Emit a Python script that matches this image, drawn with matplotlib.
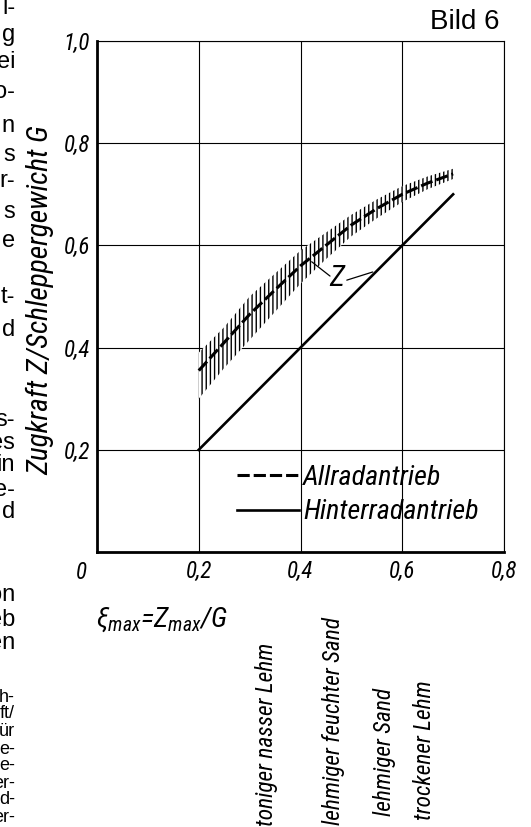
# coding: utf-8

# Imports
import matplotlib
matplotlib.use("Agg")
import matplotlib.pyplot as plt
import matplotlib.transforms as mtransforms
from matplotlib import font_manager as fm
from matplotlib.lines import Line2D


# Data
xi = [0.2, 0.25, 0.3, 0.35, 0.4, 0.45, 0.5, 0.55, 0.6, 0.65, 0.7]
z_allrad = [0.355, 0.41, 0.465, 0.513, 0.56, 0.60, 0.64, 0.672, 0.70, 0.722, 0.74]
z_allrad_lo = [0.30, 0.36, 0.415, 0.47, 0.525, 0.573, 0.618, 0.653, 0.685, 0.71, 0.73]
z_allrad_hi = [0.39, 0.44, 0.50, 0.545, 0.59, 0.625, 0.66, 0.69, 0.716, 0.735, 0.75]
xi_hinterrad = [0.2, 0.7]
z_hinterrad = [0.2, 0.7]

x_ticks = [0.2, 0.4, 0.6, 0.8]
x_ticklabels = ["0,2", "0,4", "0,6", "0,8"]
y_ticks = [0.2, 0.4, 0.6, 0.8, 1.0]
y_ticklabels = ["0,2", "0,4", "0,6", "0,8", "1,0"]
series_labels = ["Allradantrieb", "Hinterradantrieb"]

soil_names = ["toniger nasser Lehm", "lehmiger feuchter Sand", "lehmiger Sand", "trockener Lehm"]
soil_xi = [0.334, 0.464, 0.566, 0.644]
soil_top = [643, 617, 688, 680]  # px from top of page

# cut-off ends of the text column on the left (px from top of page)
column_text = ["l-", "g", "ei", "o-", "n", "s", "r-", "s", "e", "t-", "d",
               "s-", "es", "in", "e-", "d", "on", "eb", "en"]
column_y = [8, 35, 62, 92, 126, 155, 181, 212, 241, 297, 330,
            420, 443, 465, 490, 512, 595, 620, 643]
caption_text = ["h-", "ft/", "ür", "e-", "e-", "er-", "d-", "er-"]
caption_y = [697, 714, 731, 749, 766, 783, 800, 818]

W, H = 531, 827


# Pick a narrow italic font (drawing-style lettering)
def pick_narrow():
    ok_w = (400, "normal", "regular", "book", 500, "medium")
    best = None
    for f in fm.fontManager.ttflist:
        if f.style not in ("italic", "oblique") or f.weight not in ok_w:
            continue
        narrow = ("Narrow" in f.name or "Condensed" in f.name
                  or f.stretch in ("condensed", "semi-condensed"))
        if not narrow:
            continue
        if "Liberation Sans Narrow" in f.name:
            rank, k = 0, 1.0
        elif "Roboto" in f.name:
            rank, k = 1, 0.92
        elif "DejaVu" in f.name:
            rank, k = 2, 0.82
        else:
            rank, k = 3, 0.9
        if best is None or rank < best[0]:
            best = (rank, k, f.fname, f.name)
    if best is None:
        path = fm.findfont(fm.FontProperties(family="DejaVu Sans", style="oblique"))
        return path, 0.74, "DejaVu Sans"
    return best[2], best[1], best[3]


font_path, k, font_name = pick_narrow()


def nfont(size):
    return fm.FontProperties(fname=font_path, size=size * k)


plt.rcParams["mathtext.fontset"] = "custom"
plt.rcParams["mathtext.it"] = font_name + ":italic"
plt.rcParams["mathtext.rm"] = font_name + ":italic"
plt.rcParams["hatch.linewidth"] = 1.0
plt.rcParams["hatch.color"] = "black"

# Plot
fig = plt.figure(figsize=(W / 100, H / 100), dpi=100, facecolor="white")
ax = fig.add_axes([97 / W, 1 - 552 / H, 407 / W, 511 / H])
ax.set_xlim(0, 0.8)
ax.set_ylim(0, 1.0)

ax.grid(True, color="black", linewidth=0.8)
ax.set_axisbelow(True)
for s in ["left", "bottom"]:
    ax.spines[s].set_linewidth(2.0)
for s in ["top", "right"]:
    ax.spines[s].set_linewidth(0.8)

# scatter band of the all-wheel drive curve
ax.fill_between(xi, z_allrad_lo, z_allrad_hi, facecolor="white", edgecolor="black",
                hatch="||||", linewidth=0, zorder=2)
ax.plot(xi, z_allrad, color="black", linewidth=2.2, dashes=(4, 1.3), zorder=3)
ax.plot(xi_hinterrad, z_hinterrad, color="black", linewidth=1.9, zorder=3)

# "Z" marker with leader lines
ax.text(0.471, 0.536, "Z", fontproperties=nfont(23), ha="center", va="center", zorder=4)
ax.annotate("", xy=(0.422, 0.568), xytext=(0.458, 0.540),
            arrowprops=dict(arrowstyle="-", color="black", lw=0.9, shrinkA=0, shrinkB=0))
ax.annotate("", xy=(0.542, 0.548), xytext=(0.491, 0.532),
            arrowprops=dict(arrowstyle="-", color="black", lw=0.9, shrinkA=0, shrinkB=0))

# ticks
ax.set_xticks(x_ticks)
ax.set_xticklabels(x_ticklabels, fontproperties=nfont(18))
ax.set_yticks(y_ticks)
ax.set_yticklabels(y_ticklabels, fontproperties=nfont(18))
ax.tick_params(length=0)
ax.tick_params(axis="x", pad=6)
ax.tick_params(axis="y", pad=5)
ax.annotate("0", xy=(0, 0), xytext=(-11, -14.5), textcoords="offset points",
            fontproperties=nfont(18), ha="center", va="center")

ax.set_ylabel("Zugkraft Z/Schleppergewicht G", fontproperties=nfont(23))
ax.yaxis.set_label_coords((54 - 97) / 407, (552 - 300) / 511)
fig.text(162 / W, 1 - 620 / H, r"$\xi_{max}$=$Z_{max}$/G", fontproperties=nfont(22),
         ha="center", va="center")

# legend
handles = [Line2D([], [], color="black", linewidth=2.2, dashes=(4, 1.3)),
           Line2D([], [], color="black", linewidth=1.9)]
ax.legend(handles, series_labels, prop=nfont(22), frameon=False, loc="upper left",
          bbox_to_anchor=((237 - 97) / 407, (552 - 465) / 511), borderpad=0,
          borderaxespad=0, handlelength=2.2, handletextpad=0.15, labelspacing=0.3)

# soil types under the x axis
trans = mtransforms.blended_transform_factory(ax.transData, fig.transFigure)
for name, x, top in zip(soil_names, soil_xi, soil_top):
    ax.text(x, 1 - top / H, name, transform=trans, rotation=90, ha="center", va="top",
            fontproperties=nfont(18.3), clip_on=False)

# page furniture
fig.text(500 / W, 1 - 22 / H, "Bild 6", family="Liberation Sans", fontsize=20,
         ha="right", va="center")
for t, y in zip(column_text, column_y):
    fig.text(15 / W, 1 - y / H, t, family="Liberation Sans", fontsize=17,
             ha="right", va="center")
for t, y in zip(caption_text, caption_y):
    fig.text(15 / W, 1 - y / H, t, family="Liberation Sans", fontsize=13,
             ha="right", va="center")

fig.savefig("out.png", dpi=100, facecolor="white")
